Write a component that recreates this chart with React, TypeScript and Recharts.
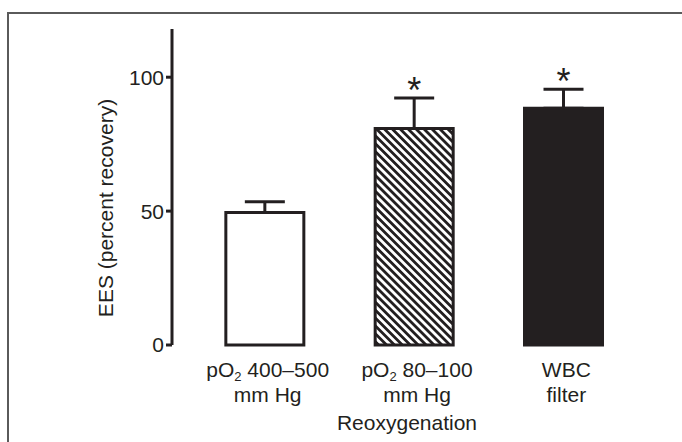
import React from 'react';
import { BarChart, Bar, XAxis, YAxis, ErrorBar, Cell, LabelList } from 'recharts';

// group labels (line 1 / line 2), subscripted "2" handled in the tick
const CATEGORIES = ['400–500', '80–100', 'WBC'];
const LINE_TWO = ['mm Hg', 'mm Hg', 'filter'];
const HAS_PO2 = [true, true, false];

const RECOVERY = [49.5, 80.8, 88.4];
const ERR_UP = [4, 11.4, 7.1];
const SIGNIFICANT = [false, true, true];

const Y_TICKS = [0, 50, 100];

const INK = '#231f20';
const FONT = '"Liberation Sans", Arial, Helvetica, sans-serif';
const FILLS = ['#ffffff', 'url(#hatch)', INK];

const data = CATEGORIES.map((c, i) => ({
  name: c,
  value: RECOVERY[i],
  err: [0, ERR_UP[i]],
}));

const GroupTick = (props: any) => {
  const { x, y, payload, index } = props;
  const i = index ?? CATEGORIES.indexOf(payload.value);
  return (
    <g>
      <text x={x + 3} y={y + 32} textAnchor="middle" fontSize={21} fill={INK} fontFamily={FONT}>
        {HAS_PO2[i] ? (
          <>
            <tspan>pO</tspan>
            <tspan fontSize={13} dy={4}>2</tspan>
            <tspan dy={-4}>{' ' + payload.value}</tspan>
          </>
        ) : (
          payload.value
        )}
      </text>
      <text x={x + 3} y={y + 57} textAnchor="middle" fontSize={21} fill={INK} fontFamily={FONT}>
        {LINE_TWO[i]}
      </text>
    </g>
  );
};

const Star = (props: any) => {
  const { x, y, width, height, value, index } = props;
  if (!SIGNIFICANT[index]) return null;
  const errTop = y - (ERR_UP[index] * height) / value;
  return (
    <text x={x + width / 2} y={errTop + 5} textAnchor="middle" fontSize={36} fill={INK} fontFamily={FONT}>
      *
    </text>
  );
};

export default function App() {
  return (
    <div style={{ position: 'absolute', left: 0, top: 0, width: 682, height: 442, background: '#fff' }}>
      <div
        style={{
          position: 'absolute',
          left: 7,
          top: 12,
          right: 0,
          bottom: 0,
          borderTop: '2px solid #5a5a5a',
          borderLeft: '2px solid #5a5a5a',
        }}
      />
      <div style={{ position: 'absolute', left: 0, top: 0 }}>
        <BarChart
          width={682}
          height={442}
          data={data}
          margin={{ top: 29, right: 44, bottom: 7, left: 0 }}
          barCategoryGap="24%"
        >
          <defs>
            <pattern id="hatch" width="5.6" height="5.6" patternUnits="userSpaceOnUse" patternTransform="rotate(-45)">
              <rect x="0" y="0" width="2.8" height="5.6" fill={INK} />
            </pattern>
          </defs>
          <XAxis
            dataKey="name"
            height={90}
            axisLine={false}
            tickLine={false}
            tickSize={0}
            tickMargin={0}
            padding={{ left: 18, right: 0 }}
            interval={0}
            tick={<GroupTick />}
            label={({ viewBox }: any) => (
              <text
                x={viewBox.x + viewBox.width / 2 + 2}
                y={viewBox.y + 85}
                textAnchor="middle"
                fontSize={21}
                fill={INK}
                fontFamily={FONT}
              >
                Reoxygenation
              </text>
            )}
          />
          <YAxis
            width={172}
            domain={[0, 118]}
            ticks={Y_TICKS}
            interval={0}
            tickSize={6}
            tick={{ fontSize: 21, fill: INK, fontFamily: FONT }}
            axisLine={{ stroke: INK, strokeWidth: 3 }}
            tickLine={{ stroke: INK, strokeWidth: 3 }}
            label={({ viewBox }: any) => (
              <text
                x={viewBox.x + 105}
                y={208}
                transform={`rotate(-90, ${viewBox.x + 105}, 208)`}
                textAnchor="middle"
                dominantBaseline="central"
                fontSize={21}
                fill={INK}
                fontFamily={FONT}
              >
                EES (percent recovery)
              </text>
            )}
          />
          <Bar dataKey="value" stroke={INK} strokeWidth={3} isAnimationActive={false}>
            {data.map((d, i) => (
              <Cell key={d.name} fill={FILLS[i]} />
            ))}
            <ErrorBar dataKey="err" width={20} stroke={INK} strokeWidth={3} direction="y" />
            <LabelList dataKey="value" content={<Star />} />
          </Bar>
        </BarChart>
      </div>
    </div>
  );
}
